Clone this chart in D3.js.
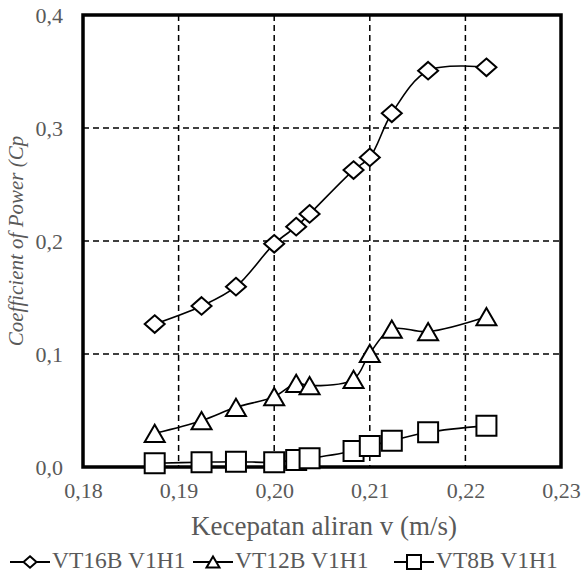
<!DOCTYPE html>
<html>
<head>
<meta charset="utf-8">
<script src="https://cdn.jsdelivr.net/npm/d3@7"></script>
<style>
  body { margin: 0; background: #fff; }
  svg text { font-family: "Liberation Serif", "Times New Roman", Times, "DejaVu Serif", serif !important; fill: #595959; }
</style>
</head>
<body>
<svg id="chart" width="582" height="572"></svg>
<script>
// Data
var velocity = [0.1875, 0.1924, 0.1960, 0.2000, 0.2023, 0.2037, 0.2083, 0.2100, 0.2123, 0.2161, 0.2222];
var vt16b = [0.1265, 0.1425, 0.1596, 0.1975, 0.2127, 0.2240, 0.2628, 0.2740, 0.3130, 0.3507, 0.3537];
var vt12b = [0.0298, 0.0410, 0.0528, 0.0622, 0.0740, 0.0720, 0.0776, 0.1006, 0.1220, 0.1198, 0.1330];
var vt8b  = [0.0033, 0.0042, 0.0047, 0.0042, 0.0062, 0.0077, 0.0142, 0.0186, 0.0233, 0.0307, 0.0366];
var seriesNames = ['VT16B V1H1', 'VT12B V1H1', 'VT8B V1H1'];
var xTicks = [0.18, 0.19, 0.20, 0.21, 0.22, 0.23];
var yTicks = [0.0, 0.1, 0.2, 0.3, 0.4];

var series = [
  { name: seriesNames[0], values: vt16b, marker: 'diamond' },
  { name: seriesNames[1], values: vt12b, marker: 'triangle' },
  { name: seriesNames[2], values: vt8b, marker: 'square' }
];

// Layout
var layout = { left: 83, right: 561, top: 15, bottom: 467 };

var svg = d3.select('#chart');
var x = d3.scaleLinear().domain([0.18, 0.23]).range([layout.left, layout.right]);
var y = d3.scaleLinear().domain([0, 0.4]).range([layout.bottom, layout.top]);
var fmt = function (d, n) { return d.toFixed(n).replace('.', ','); };

// Grid lines (dashed)
svg.append('g').selectAll('line.vx')
  .data(xTicks.slice(1, -1))
  .enter().append('line')
  .attr('x1', function (d) { return x(d); })
  .attr('x2', function (d) { return x(d); })
  .attr('y1', layout.top).attr('y2', layout.bottom)
  .attr('stroke', '#000').attr('stroke-width', 1.5).attr('stroke-dasharray', '6,4');

svg.append('g').selectAll('line.hy')
  .data(yTicks.slice(1, -1))
  .enter().append('line')
  .attr('y1', function (d) { return y(d); })
  .attr('y2', function (d) { return y(d); })
  .attr('x1', layout.left).attr('x2', layout.right)
  .attr('stroke', '#000').attr('stroke-width', 1.5).attr('stroke-dasharray', '6,4');

// Axes (labels only, frame drawn separately)
var xAxis = svg.append('g')
  .attr('transform', 'translate(0,' + layout.bottom + ')')
  .call(d3.axisBottom(x).tickValues(xTicks).tickSize(0).tickPadding(15)
    .tickFormat(function (d) { return fmt(d, 2); }));
var yAxis = svg.append('g')
  .attr('transform', 'translate(' + layout.left + ',0)')
  .call(d3.axisLeft(y).tickValues(yTicks).tickSize(0).tickPadding(20)
    .tickFormat(function (d) { return fmt(d, 1); }));
[xAxis, yAxis].forEach(function (a) {
  a.attr('font-family', null);
  a.select('.domain').remove();
  a.selectAll('text').attr('font-size', 22).attr('fill', '#595959');
});

// Plot frame
svg.append('rect')
  .attr('x', layout.left).attr('y', layout.top)
  .attr('width', layout.right - layout.left).attr('height', layout.bottom - layout.top)
  .attr('fill', 'none').attr('stroke', '#000').attr('stroke-width', 3.5);

// Markers
var symbolPath = {
  diamond: function (s) {
    var w = s * 0.5, h = s * 0.44;
    return 'M0,' + (-h) + 'L' + w + ',0L0,' + h + 'L' + (-w) + ',0Z';
  },
  triangle: function (s) {
    var w = s * 0.5, h = s * 0.43;
    return 'M0,' + (-h) + 'L' + w + ',' + h + 'L' + (-w) + ',' + h + 'Z';
  },
  square: function (s) {
    var w = s * 0.5;
    return 'M' + (-w) + ',' + (-w) + 'H' + w + 'V' + w + 'H' + (-w) + 'Z';
  }
};

var line = d3.line()
  .x(function (d) { return x(d[0]); })
  .y(function (d) { return y(d[1]); })
  .curve(d3.curveCatmullRom.alpha(0.5));

series.forEach(function (s) {
  var pts = velocity.map(function (v, i) { return [v, s.values[i]]; });
  svg.append('path')
    .datum(pts)
    .attr('d', line)
    .attr('fill', 'none').attr('stroke', '#000').attr('stroke-width', 1.6);
  svg.append('g').selectAll('path')
    .data(pts)
    .enter().append('path')
    .attr('transform', function (d) { return 'translate(' + x(d[0]) + ',' + y(d[1]) + ')'; })
    .attr('d', symbolPath[s.marker](s.marker === 'square' ? 20 : 20))
    .attr('fill', '#fff').attr('stroke', '#000').attr('stroke-width', 2);
});

// Axis titles
svg.append('text')
  .attr('x', (layout.left + layout.right) / 2 + 2).attr('y', 535)
  .attr('text-anchor', 'middle').attr('font-size', 27)
  .text('Kecepatan aliran v (m/s)');

svg.append('text')
  .attr('transform', 'translate(23,' + ((layout.top + layout.bottom) / 2) + ') rotate(-90)')
  .attr('text-anchor', 'middle').attr('font-size', 21).attr('font-style', 'italic')
  .text('Coefficient of Power (Cp');

// Legend
var legendX = [10, 193, 394];
var legend = svg.append('g').selectAll('g')
  .data(series)
  .enter().append('g')
  .attr('transform', function (d, i) { return 'translate(' + legendX[i] + ',562)'; });
legend.append('line')
  .attr('x1', 0).attr('x2', 40).attr('y1', 0).attr('y2', 0)
  .attr('stroke', '#000').attr('stroke-width', 1.8);
legend.append('path')
  .attr('transform', 'translate(20,0)')
  .attr('d', function (d) { return symbolPath[d.marker](d.marker === 'square' ? 14 : 13); })
  .attr('fill', '#fff').attr('stroke', '#000').attr('stroke-width', 2);
legend.append('text')
  .attr('x', 42).attr('y', 4).attr('dy', '0.1em')
  .attr('font-size', 23.5)
  .text(function (d) { return d.name; });
</script>
</body>
</html>
